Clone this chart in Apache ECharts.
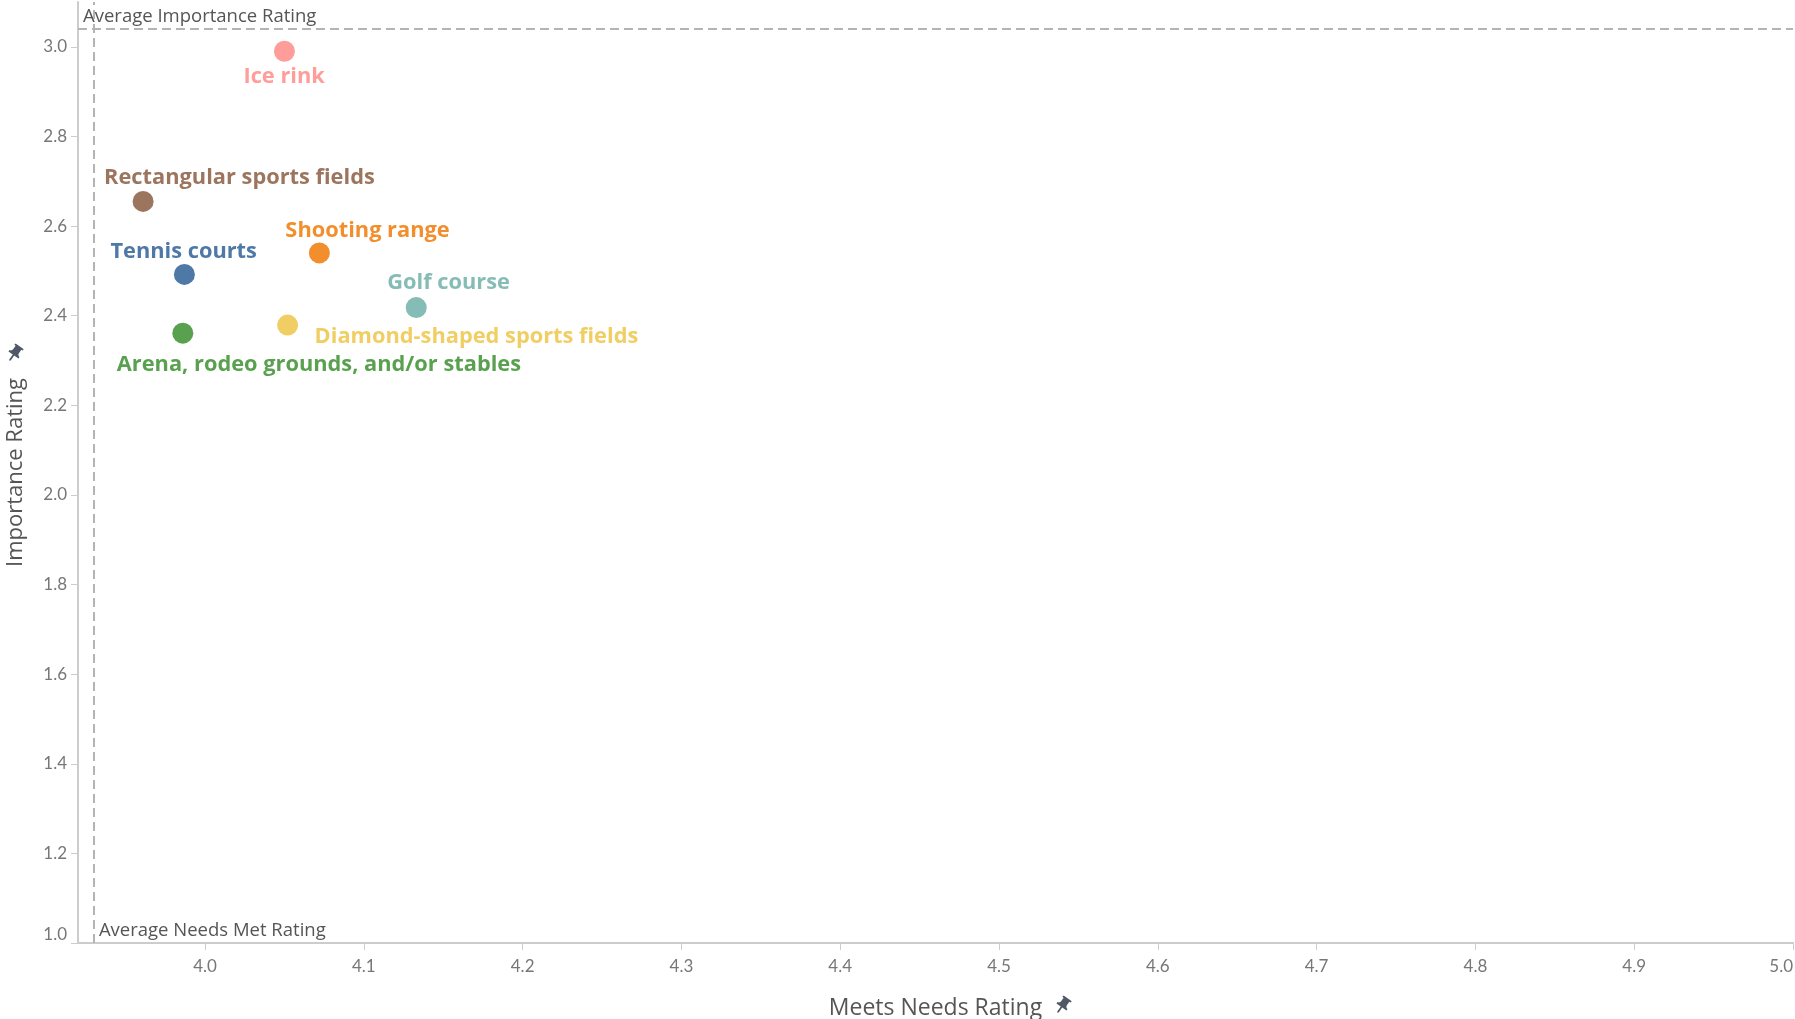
<!DOCTYPE html>
<html>
<head>
<meta charset="utf-8">
<title>Importance vs Meets Needs</title>
<script src="https://cdn.jsdelivr.net/npm/echarts@6/dist/echarts.min.js"></script>
<style>
  html, body { margin: 0; padding: 0; background: #ffffff; }
  #chart { width: 1795px; height: 1019px; }
</style>
</head>
<body>
<div id="chart"></div>
<script>
// Facility ratings
const facilities = [
  'Ice rink',
  'Rectangular sports fields',
  'Shooting range',
  'Tennis courts',
  'Golf course',
  'Diamond-shaped sports fields',
  'Arena, rodeo grounds, and/or stables'
];
const meetsNeeds = [4.050, 3.961, 4.072, 3.987, 4.133, 4.052, 3.986];
const importance = [2.990, 2.655, 2.540, 2.492, 2.418, 2.379, 2.361];

// Reference lines (averages)
const avgNeedsMet = 3.93;
const avgImportance = 3.04;

// Axis ticks
const xTicks = [4.0, 4.1, 4.2, 4.3, 4.4, 4.5, 4.6, 4.7, 4.8, 4.9, 5.0];
const yTicks = [1.0, 1.2, 1.4, 1.6, 1.8, 2.0, 2.2, 2.4, 2.6, 2.8, 3.0];

// Styling per facility
const colors = ['#ff9d9a', '#9c755f', '#f28e2b', '#4e79a7', '#86bcb6', '#f1ce63', '#59a14f'];
// label anchor (left edge, vertical middle) relative to the point centre, px
const labelOffsets = [[-41, 25], [-39, -24], [-34, -22], [-74, -23], [-29, -25], [27, 12], [-66, 32]];

const FONT = '"Open Sans"';
const TICK_FONT = 'Lato';

// small push-pin icon shown next to the axis titles
const PIN_SVG = 'data:image/svg+xml;utf8,' + encodeURIComponent(
  '<svg xmlns="http://www.w3.org/2000/svg" width="24" height="24" viewBox="0 0 24 24">' +
  '<g transform="rotate(35 12 12)"><path fill="#4f5866" d="M16 9V4h1c.55 0 1-.45 1-1s-.45-1-1-1H7c-.55 0-1 .45-1 1s.45 1 1 1h1v5c0 1.66-1.34 3-3 3v2h5.97v7l1 1 1-1v-7H19v-2c-1.66 0-3-1.34-3-3z"/></g></svg>'
);

const points = facilities.map((name, i) => ({
  name: name,
  value: [meetsNeeds[i], importance[i]],
  itemStyle: { color: colors[i], opacity: 1 },
  label: {
    show: true,
    formatter: name,
    position: 'inside',
    align: 'left',
    verticalAlign: 'middle',
    offset: labelOffsets[i],
    color: colors[i],
    fontFamily: FONT,
    fontWeight: 'bold',
    fontSize: 21.8
  }
}));

const refLabel = {
  show: true,
  align: 'left',
  verticalAlign: 'bottom',
  color: '#555',
  fontFamily: FONT,
  fontSize: 18.5
};

const axisLineStyle = { show: true, lineStyle: { color: '#cccccc', width: 2 } };

const chart = echarts.init(document.getElementById('chart'));
chart.setOption({
  backgroundColor: '#ffffff',
  animation: false,
  grid: { left: 78, right: 2, top: 2, bottom: 76, containLabel: false, outerBoundsMode: 'none' },
  xAxis: {
    type: 'value',
    min: 3.92,
    max: 5.0,
    name: 'Meets Needs Rating',
    nameLocation: 'middle',
    nameGap: 54,
    nameTextStyle: { color: '#555', fontFamily: FONT, fontSize: 23 },
    axisLine: axisLineStyle,
    splitLine: { show: false },
    axisTick: { show: true, length: 7, lineStyle: { color: '#cccccc' }, customValues: xTicks },
    axisLabel: {
      customValues: xTicks,
      formatter: v => v.toFixed(1),
      color: '#777',
      fontFamily: TICK_FONT,
      fontSize: 17,
      margin: 15,
      alignMaxLabel: 'right'
    }
  },
  yAxis: {
    type: 'value',
    min: 1.0,
    max: 3.1,
    name: 'Importance Rating',
    nameLocation: 'middle',
    nameGap: 51,
    nameTextStyle: { color: '#555', fontFamily: FONT, fontSize: 22 },
    axisLine: axisLineStyle,
    splitLine: { show: false },
    axisTick: { show: true, length: 7, lineStyle: { color: '#cccccc' }, customValues: yTicks },
    axisLabel: {
      customValues: yTicks,
      formatter: v => v.toFixed(1),
      color: '#777',
      fontFamily: TICK_FONT,
      fontSize: 17,
      margin: 11,
      verticalAlignMinLabel: 'bottom'
    }
  },
  series: [{
    type: 'scatter',
    symbol: 'circle',
    symbolSize: 21,
    data: points,
    emphasis: { disabled: true },
    markLine: {
      silent: true,
      symbol: ['none', 'none'],
      label: { show: false },
      lineStyle: { type: [9, 5], color: '#b4b4b4', width: 2 },
      data: [{ xAxis: avgNeedsMet }, { yAxis: avgImportance }]
    },
    markPoint: {
      silent: true,
      symbol: 'circle',
      symbolSize: 0,
      itemStyle: { color: 'transparent' },
      data: [
        { name: 'Average Importance Rating', coord: [3.92, avgImportance],
          label: Object.assign({}, refLabel, { position: [5, -3], formatter: 'Average Importance Rating' }) },
        { name: 'Average Needs Met Rating', coord: [avgNeedsMet, 1.0],
          label: Object.assign({}, refLabel, { position: [5, -3], formatter: 'Average Needs Met Rating' }) }
      ]
    }
  }],
  graphic: [
    { type: 'image', x: 1052, y: 995, style: { image: PIN_SVG, width: 21, height: 21 } },
    { type: 'image', x: 4, y: 343, style: { image: PIN_SVG, width: 21, height: 21 } }
  ]
});
</script>
</body>
</html>
